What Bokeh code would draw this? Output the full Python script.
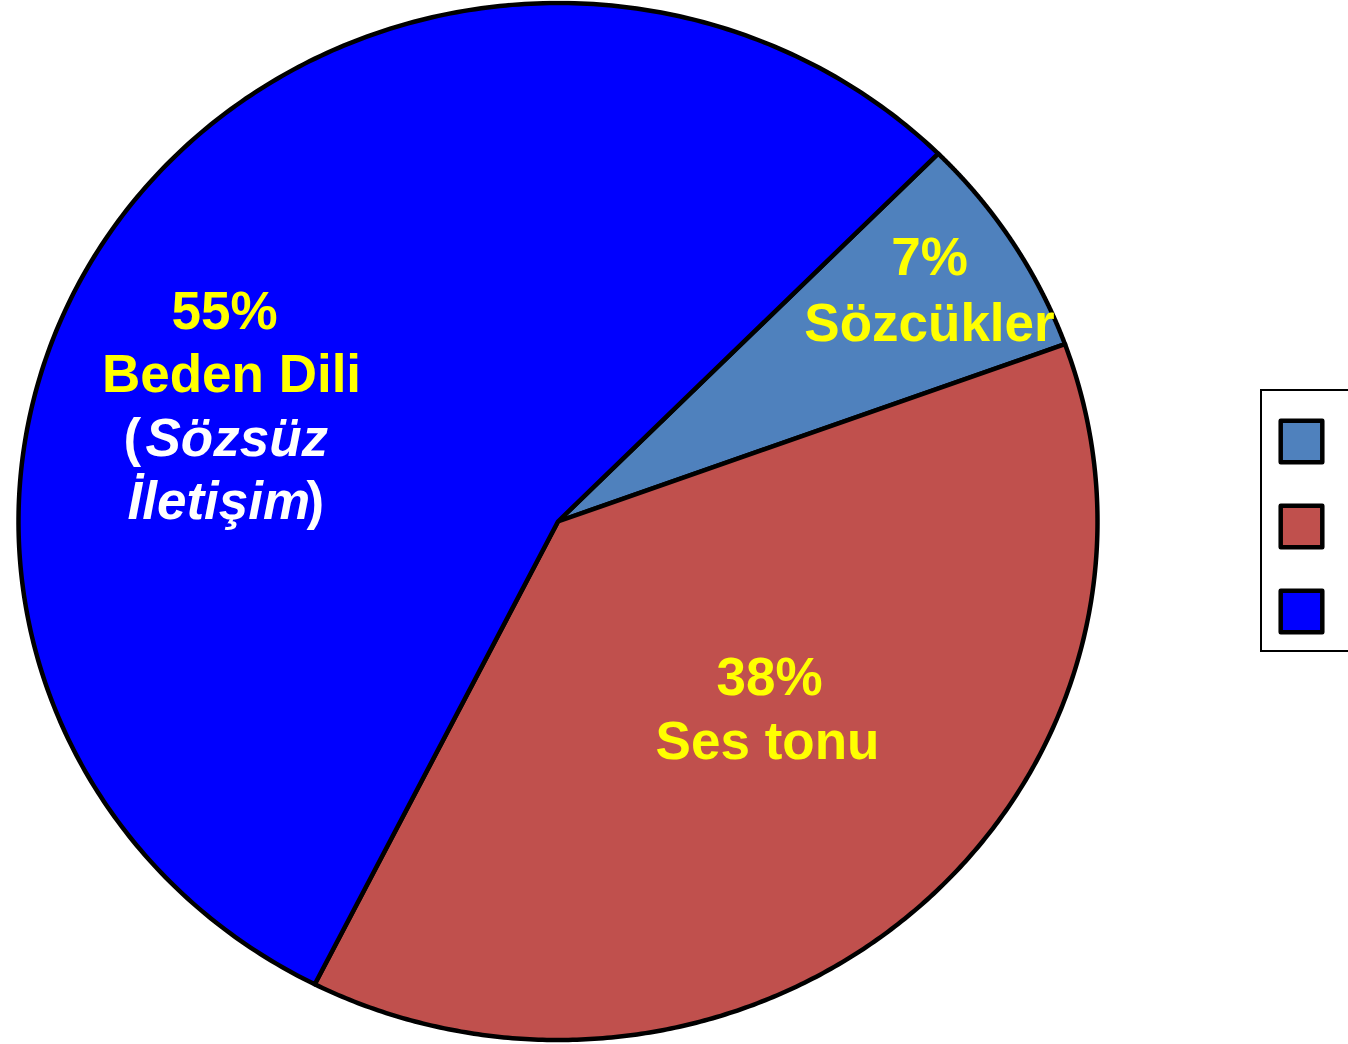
import numpy as np
from bokeh.plotting import figure
from bokeh.models import Range1d, Legend, LegendItem, ColumnDataSource
from bokeh.core.properties import value
from bokeh.embed import file_html
from bokeh.resources import INLINE

# ---- data ----
categories = ["Sözcükler", "Ses tonu", "Beden Dili"]
percents = [7, 38, 55]
subtitle_open = "("
subtitle_words = ["Sözsüz", "İletişim"]
subtitle_close = ")"
slice_colors = ["#4F81BD", "#C0504D", "#0000FF"]

# ---- figure (data units == page pixels) ----
W, H = 1348, 1044
p = figure(width=W, height=H, output_backend="svg", toolbar_location=None,
           x_range=Range1d(0, W), y_range=Range1d(H, 0),
           x_axis_location=None, y_axis_location=None, min_border=0)
p.grid.visible = False
p.outline_line_color = None
p.background_fill_color = "white"

# ---- pie (elliptical, clockwise from start angle) ----
cx, cy, rx, ry = 557.5, 521.0, 539.5, 518.5
start_deg = 45.2
fr = np.array(percents, dtype=float) / np.sum(percents)
bounds = start_deg - 360.0 * np.concatenate([[0.0], np.cumsum(fr)])
renderers = []
for i, cat in enumerate(categories):
    t = np.radians(np.linspace(bounds[i], bounds[i + 1], 300))
    xs = np.concatenate([[cx], cx + rx * np.cos(t), [cx]])
    ys = np.concatenate([[cy], cy - ry * np.sin(t), [cy]])
    r = p.patch(xs, ys, fill_color=slice_colors[i], line_color="black",
                line_width=4.5, line_join="round")
    renderers.append(r)

# ---- labels ----
FONT_NAME = "Liberation Sans"
FONT = value(FONT_NAME)
FS = "53px"
yl = ColumnDataSource(dict(
    x=[929, 929, 769, 767, 224, 231],
    y=[255.5, 322, 676, 740, 309.5, 373],
    t=[f"{percents[0]}%", categories[0], f"{percents[1]}%", categories[1],
       f"{percents[2]}%", categories[2]],
))
p.text(x="x", y="y", text="t", source=yl, text_color="#FFFF00",
       text_font=FONT, text_font_size=FS, text_font_style="bold",
       text_align="center", text_baseline="middle")

wi = ColumnDataSource(dict(x=[145, 127], y=[437, 500], t=subtitle_words))
p.text(x="x", y="y", text="t", source=wi, text_color="white",
       text_font=FONT, text_font_size=FS, text_font_style="bold italic",
       text_align="left", text_baseline="middle")

wp = ColumnDataSource(dict(x=[123, 306], y=[437, 500], t=[subtitle_open, subtitle_close]))
p.text(x="x", y="y", text="t", source=wp, text_color="white",
       text_font=FONT, text_font_size=FS, text_font_style="bold",
       text_align="left", text_baseline="middle")

# ---- legend (labels lie beyond the right edge, as in the reference) ----
legend = Legend(
    items=[LegendItem(label=c, renderers=[r]) for c, r in zip(categories, renderers)],
    location=(1260, 392), orientation="vertical",
    glyph_width=52, glyph_height=52, label_height=52, spacing=33,
    padding=13, margin=0,
    title=" ", title_text_font_size="2px", title_standoff=9,
    label_text_font=FONT_NAME, label_text_font_size="30px", label_standoff=40,
    border_line_color="black", border_line_width=2, border_line_alpha=1.0,
    background_fill_color="white", background_fill_alpha=1.0,
)
p.add_layout(legend)

open("out.html", "w").write(file_html(p, INLINE))
